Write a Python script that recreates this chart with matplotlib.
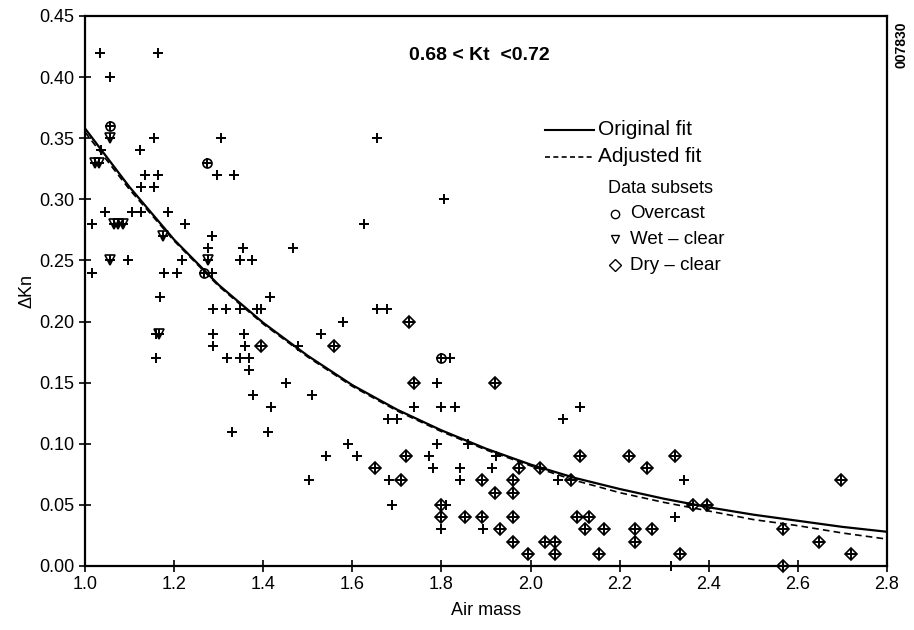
import matplotlib
matplotlib.use('Agg')
import matplotlib.pyplot as plt
from matplotlib.lines import Line2D

plt.rcParams['font.family'] = ['Liberation Sans', 'DejaVu Sans']

# plain data points (+)
plus_x = [1.034, 1.164, 1.055, 1.035, 1.124, 1.154, 1.305, 1.135, 1.164, 1.296, 1.334, 1.126, 1.155,
          1.045, 1.105, 1.126, 1.186, 1.016, 1.225, 1.285, 1.276, 1.355, 1.466, 1.097, 1.218, 1.347,
          1.375, 1.016, 1.178, 1.206, 1.285, 1.169, 1.416, 1.160, 1.160, 1.287, 1.317, 1.349, 1.386,
          1.396, 1.287, 1.356, 1.287, 1.358, 1.319, 1.349, 1.369, 1.369, 1.377, 1.330, 1.410, 1.418,
          1.450, 1.479, 1.529, 1.578, 1.510, 1.502, 1.542, 1.590, 1.611, 1.655, 1.806, 1.626, 1.656,
          1.677, 1.819, 1.790, 1.739, 1.800, 1.831, 1.680, 1.700, 1.791, 1.860, 1.771, 1.922, 2.111,
          2.072, 1.781, 1.841, 1.913, 1.682, 1.841, 2.061, 1.690, 1.810, 1.800, 1.894, 2.344, 2.324,
          2.315]
plus_y = [0.42, 0.42, 0.40, 0.34, 0.34, 0.35, 0.35, 0.32, 0.32, 0.32, 0.32, 0.31, 0.31,
          0.29, 0.29, 0.29, 0.29, 0.28, 0.28, 0.27, 0.26, 0.26, 0.26, 0.25, 0.25, 0.25,
          0.25, 0.24, 0.24, 0.24, 0.24, 0.22, 0.22, 0.19, 0.17, 0.21, 0.21, 0.21, 0.21,
          0.21, 0.19, 0.19, 0.18, 0.18, 0.17, 0.17, 0.17, 0.16, 0.14, 0.11, 0.11, 0.13,
          0.15, 0.18, 0.19, 0.20, 0.14, 0.07, 0.09, 0.10, 0.09, 0.35, 0.30, 0.28, 0.21,
          0.21, 0.17, 0.15, 0.13, 0.13, 0.13, 0.12, 0.12, 0.10, 0.10, 0.09, 0.09, 0.13,
          0.12, 0.08, 0.08, 0.08, 0.07, 0.07, 0.07, 0.05, 0.05, 0.03, 0.03, 0.07, 0.04,
          0.00]

# data subsets
overcast_x = [1.055, 1.274, 1.266, 1.799]
overcast_y = [0.36, 0.33, 0.24, 0.17]

wet_x = [1.055, 1.022, 1.032, 1.064, 1.074, 1.085, 1.176, 1.056, 1.276, 1.166]
wet_y = [0.35, 0.33, 0.33, 0.28, 0.28, 0.28, 0.27, 0.25, 0.25, 0.19]

dry_x = [1.396, 1.559, 1.727, 1.739, 1.920, 1.720, 2.111, 2.222, 1.650, 1.973, 2.021, 2.262,
         1.710, 1.892, 1.961, 2.091, 1.921, 1.961, 1.800, 1.800, 1.853, 1.892, 1.961, 2.104,
         2.131, 1.932, 2.123, 2.164, 2.234, 2.273, 1.961, 2.033, 2.054, 2.234, 1.994, 2.054,
         2.153, 2.324, 2.365, 2.395, 2.336, 2.566, 2.647, 2.719, 2.696, 2.566]
dry_y = [0.18, 0.18, 0.20, 0.15, 0.15, 0.09, 0.09, 0.09, 0.08, 0.08, 0.08, 0.08,
         0.07, 0.07, 0.07, 0.07, 0.06, 0.06, 0.05, 0.04, 0.04, 0.04, 0.04, 0.04,
         0.04, 0.03, 0.03, 0.03, 0.03, 0.03, 0.02, 0.02, 0.02, 0.02, 0.01, 0.01,
         0.01, 0.09, 0.05, 0.05, 0.01, 0.03, 0.02, 0.01, 0.07, 0.00]

# fit curves
fit_x = [1.0, 1.1, 1.2, 1.3, 1.4, 1.5, 1.6, 1.7, 1.8, 1.9, 2.0, 2.1, 2.2, 2.3, 2.4, 2.5, 2.6, 2.7, 2.8]
orig_fit = [0.358, 0.310, 0.267, 0.230, 0.199, 0.172, 0.148, 0.128, 0.111, 0.096, 0.083,
            0.072, 0.063, 0.055, 0.048, 0.042, 0.037, 0.032, 0.028]
adj_fit = [0.355, 0.308, 0.266, 0.229, 0.198, 0.171, 0.147, 0.127, 0.110, 0.095, 0.082,
           0.070, 0.060, 0.052, 0.045, 0.038, 0.033, 0.027, 0.022]

W, H = 914, 630
fig = plt.figure(figsize=(W / 100, H / 100), dpi=100)
ax = fig.add_axes([85 / W, 1 - 566 / H, 802 / W, 550 / H])

ax.plot(fit_x, orig_fit, color='black', lw=1.6)
ax.plot(fit_x, adj_fit, color='black', lw=1.2, ls=(0, (4, 2.5)))

all_x = plus_x + overcast_x + wet_x + dry_x
all_y = plus_y + overcast_y + wet_y + dry_y
ax.plot(all_x, all_y, ls='none', marker='+', ms=7.5, mew=1.4, color='black', clip_on=False)
ax.plot(overcast_x, overcast_y, ls='none', marker='o', ms=6.5, mew=1.2, mfc='none', mec='black')
ax.plot(wet_x, wet_y, ls='none', marker='v', ms=7, mew=1.2, mfc='none', mec='black')
ax.plot(dry_x, dry_y, ls='none', marker='D', ms=6, mew=1.2, mfc='none', mec='black', clip_on=False)

ax.set_xlim(1.0, 2.8)
ax.set_ylim(0.0, 0.45)
ax.set_xticks([1.0, 1.2, 1.4, 1.6, 1.8, 2.0, 2.2, 2.4, 2.6, 2.8])
ax.set_yticks([0.0, 0.05, 0.10, 0.15, 0.20, 0.25, 0.30, 0.35, 0.40, 0.45])
ax.set_xticklabels(['1.0', '1.2', '1.4', '1.6', '1.8', '2.0', '2.2', '2.4', '2.6', '2.8'])
ax.set_yticklabels(['0.00', '0.05', '0.10', '0.15', '0.20', '0.25', '0.30', '0.35', '0.40', '0.45'])
ax.tick_params(direction='inout', length=9, width=1.2, labelsize=13, pad=3)
for s in ax.spines.values():
    s.set_linewidth(1.6)

ax.set_xlabel('Air mass', fontsize=13, labelpad=6)
ax.set_ylabel('ΔKn', fontsize=13, labelpad=3)

fig.text(479 / W, 1 - 56 / H, '0.68 < Kt  <0.72', fontsize=14, fontweight='bold',
         ha='center', va='center')
fig.text(901 / W, 1 - 45 / H, '007830', fontsize=10, fontweight='bold', rotation=90,
         ha='center', va='center')

# legend drawn by hand
fig.add_artist(Line2D([545 / W, 594 / W], [1 - 130 / H, 1 - 130 / H], color='black', lw=1.5))
fig.add_artist(Line2D([545 / W, 594 / W], [1 - 157 / H, 1 - 157 / H], color='black', lw=1.2,
                      ls=(0, (3, 2))))
fig.text(598 / W, 1 - 130 / H, 'Original fit', fontsize=15, va='center')
fig.text(598 / W, 1 - 157 / H, 'Adjusted fit', fontsize=15, va='center')
fig.text(608 / W, 1 - 188 / H, 'Data subsets', fontsize=13, va='center')
for yy, mk, ms, lab in [(214, 'o', 6, 'Overcast'), (239, 'v', 6, 'Wet – clear'),
                        (265, 'D', 6, 'Dry – clear')]:
    fig.add_artist(Line2D([615 / W], [1 - yy / H], ls='none', marker=mk, ms=ms, mew=1,
                          mfc='none', mec='black'))
    fig.text(630 / W, 1 - yy / H, lab, fontsize=13.5, va='center')

fig.savefig('out.png', dpi=100)
